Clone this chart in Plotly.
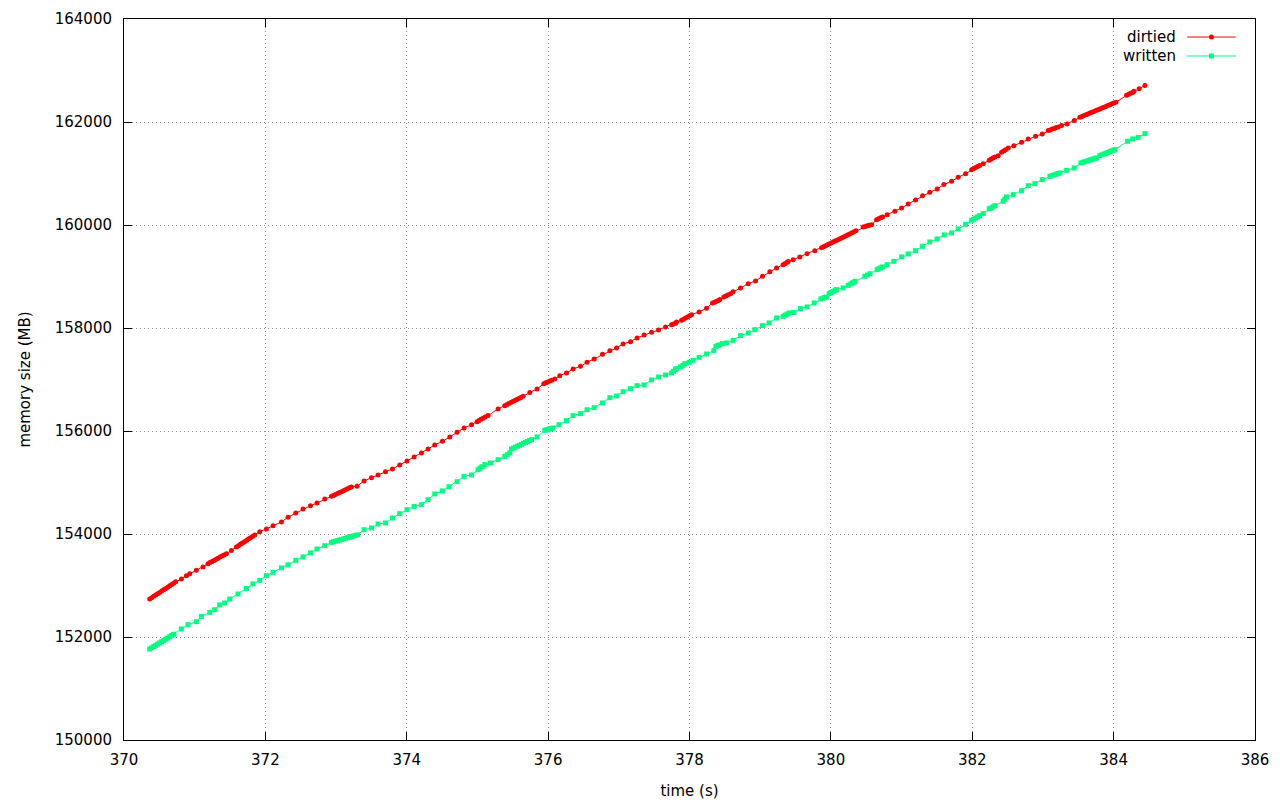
import plotly.graph_objects as go

# ---- data ----
dirtied_time = [
    370.364, 370.392, 370.420, 370.449, 370.477, 370.505, 370.534, 370.562, 370.590, 370.619, 370.647, 370.675, 370.704, 370.732,
    370.812, 370.883, 370.930, 371.024, 371.118,
    371.189, 371.217, 371.245, 371.274, 371.302, 371.330, 371.359, 371.387, 371.415, 371.449,
    371.520,
    371.590, 371.619, 371.647, 371.675, 371.704, 371.732, 371.760, 371.789, 371.817, 371.850,
    371.920, 372.015, 372.108, 372.227, 372.321, 372.430, 372.533, 372.638, 372.731, 372.840,
    372.935, 372.963, 372.991, 373.020, 373.048, 373.076, 373.105, 373.133, 373.161, 373.190, 373.218,
    373.297, 373.396, 373.501, 373.594, 373.699, 373.798, 373.901, 374.004, 374.104, 374.208, 374.302, 374.396, 374.505, 374.609, 374.712, 374.811, 374.916,
    374.995, 375.023, 375.051, 375.080, 375.108, 375.150,
    375.292,
    375.387, 375.415, 375.444, 375.472, 375.500, 375.529, 375.557, 375.585, 375.614, 375.646,
    375.741, 375.844,
    375.939, 375.967, 375.995, 376.024, 376.052, 376.094,
    376.165, 376.260, 376.353, 376.458, 376.551, 376.651, 376.769, 376.873, 376.968, 377.061, 377.166, 377.259, 377.358, 377.463, 377.562, 377.661,
    377.746, 377.774, 377.802, 377.816,
    377.887, 377.916, 377.944, 377.972, 378.001, 378.029,
    378.136, 378.241,
    378.326, 378.354, 378.382, 378.411, 378.429,
    378.486, 378.514, 378.542, 378.581,
    378.617, 378.722, 378.830, 378.934, 379.033, 379.137, 379.232,
    379.325, 379.353, 379.381, 379.396,
    379.466, 379.561, 379.664, 379.773,
    379.868, 379.896, 379.925, 379.953, 379.981, 380.010, 380.038, 380.066, 380.095, 380.123, 380.151, 380.180, 380.208, 380.236, 380.265, 380.293, 380.321, 380.354,
    380.457, 380.485, 380.513, 380.542, 380.576,
    380.647, 380.675, 380.703, 380.732,
    380.796, 380.906, 381.000, 381.094, 381.198, 381.297, 381.400, 381.504, 381.599, 381.708, 381.801, 381.906,
    381.991, 382.019, 382.048, 382.076, 382.104, 382.155,
    382.240,
    382.264, 382.292, 382.321, 382.367,
    382.415, 382.444, 382.472, 382.509,
    382.589, 382.698, 382.792, 382.896, 382.990,
    383.075, 383.103, 383.131, 383.160, 383.188, 383.216, 383.264,
    383.343, 383.443,
    383.523, 383.551, 383.580, 383.608, 383.636, 383.665, 383.693, 383.721, 383.750, 383.778, 383.806, 383.834, 383.863, 383.891, 383.919, 383.948, 383.976, 384.004, 384.033,
    384.184, 384.212, 384.240, 384.269, 384.287,
    384.362, 384.443,
]
dirtied_mb = [
    152738, 152764, 152789, 152815, 152840, 152866, 152892, 152917, 152943, 152968, 152994, 153020, 153045, 153071,
    153127, 153191, 153230, 153294, 153360,
    153424, 153445, 153466, 153487, 153508, 153530, 153551, 153572, 153593, 153618,
    153682,
    153748, 153773, 153799, 153824, 153850, 153875, 153901, 153926, 153952, 153981,
    154045, 154098, 154162, 154234, 154327, 154408, 154486, 154550, 154603, 154680,
    154731, 154749, 154767, 154786, 154804, 154822, 154841, 154859, 154877, 154896, 154914,
    154925, 155030, 155094, 155146, 155210, 155263, 155341, 155418, 155496, 155574, 155651, 155729, 155799, 155884, 155974, 156059, 156123,
    156181, 156204, 156227, 156250, 156273, 156299,
    156428,
    156492, 156512, 156532, 156551, 156571, 156591, 156610, 156630, 156650, 156675,
    156750, 156816,
    156919, 156936, 156952, 156969, 156986, 157010,
    157075, 157127, 157205, 157255, 157333, 157399, 157488, 157560, 157613, 157690, 157735, 157807, 157865, 157916, 157962, 158020,
    158065, 158079, 158094, 158117,
    158149, 158171, 158193, 158215, 158237, 158259,
    158312, 158382,
    158487, 158502, 158518, 158534, 158551,
    158603, 158622, 158641, 158667,
    158706, 158778, 158861, 158914, 159003, 159094, 159166,
    159230, 159253, 159276, 159289,
    159327, 159380, 159444, 159502,
    159560, 159579, 159598, 159616, 159635, 159654, 159673, 159692, 159710, 159729, 159748, 159767, 159786, 159804, 159823, 159846, 159865, 159890,
    159962, 159973, 159984, 159996, 160007,
    160104, 160121, 160139, 160157,
    160201, 160265, 160331, 160409, 160487, 160570, 160634, 160700, 160784, 160848, 160926, 160997,
    161075, 161095, 161115, 161135, 161155, 161191,
    161256,
    161275, 161299, 161320, 161347,
    161411, 161436, 161461, 161497,
    161541, 161605, 161671, 161722, 161768,
    161833, 161847, 161862, 161876, 161891, 161905, 161930,
    161963, 162027,
    162091, 162107, 162124, 162140, 162156, 162173, 162189, 162205, 162221, 162238, 162254, 162270, 162287, 162303, 162319, 162336, 162352, 162368, 162384,
    162518, 162537, 162556, 162575, 162596,
    162648, 162707,
]

written_time = [
    370.364, 370.392, 370.420, 370.449, 370.477, 370.505, 370.534, 370.562, 370.590, 370.619, 370.647, 370.675, 370.704,
    370.812, 370.906, 371.024, 371.095, 371.213, 371.283, 371.354, 371.425, 371.496, 371.613, 371.732, 371.825, 371.920,
    372.015, 372.108, 372.227, 372.321, 372.430, 372.533, 372.638, 372.731, 372.840,
    372.935, 372.963, 372.991, 373.020, 373.048, 373.076, 373.105, 373.133, 373.161, 373.190, 373.218, 373.246, 373.275, 373.303,
    373.396, 373.501, 373.594, 373.699, 373.798, 373.901, 374.004, 374.104, 374.208, 374.302, 374.396, 374.505, 374.599, 374.712, 374.811, 374.916,
    375.009, 375.037, 375.066, 375.104,
    375.185, 375.292,
    375.387, 375.422, 375.458,
    375.482, 375.510, 375.538, 375.567, 375.595, 375.623, 375.652, 375.680, 375.708, 375.737, 375.765,
    375.844,
    375.953, 375.981, 376.009, 376.038, 376.070,
    376.155, 376.260, 376.353, 376.458, 376.551, 376.651, 376.769, 376.873, 376.968, 377.061, 377.166, 377.259, 377.358, 377.463, 377.562, 377.661,
    377.746, 377.774, 377.802, 377.816,
    377.873, 377.906, 377.934,
    377.995, 378.051, 378.136, 378.241, 378.344,
    378.373, 378.401, 378.429, 378.467,
    378.524, 378.617, 378.722, 378.830, 378.924, 379.033, 379.127, 379.232,
    379.325, 379.353, 379.381, 379.410,
    379.476, 379.571, 379.664, 379.764,
    379.858, 379.886, 379.910, 379.939,
    379.976, 380.004, 380.032, 380.061, 380.081,
    380.174, 380.245,
    380.283, 380.311, 380.340,
    380.481, 380.517, 380.552,
    380.655, 380.683, 380.707, 380.731,
    380.796, 380.891, 381.000, 381.094, 381.198, 381.297, 381.400, 381.504, 381.603, 381.708, 381.801, 381.906,
    381.991, 382.019, 382.048, 382.076, 382.104, 382.155,
    382.240,
    382.264, 382.292, 382.321,
    382.438, 382.462, 382.486,
    382.579, 382.698, 382.792, 382.886, 382.990,
    383.099, 383.127, 383.155, 383.184, 383.212, 383.240,
    383.335, 383.443,
    383.537, 383.566, 383.594, 383.622, 383.651, 383.679, 383.707, 383.736, 383.760,
    383.806, 383.834, 383.863, 383.891, 383.919, 383.948, 383.976, 384.004, 384.018,
    384.198, 384.269, 384.348, 384.443,
]
written_mb = [
    151767, 151791, 151815, 151838, 151862, 151886, 151910, 151934, 151958, 151981, 152005, 152029, 152053,
    152156, 152239, 152297, 152400, 152478, 152530, 152622, 152661, 152738, 152835, 152944, 153030, 153099,
    153191, 153255, 153342, 153402, 153488, 153554, 153632, 153709, 153773,
    153837, 153848, 153860, 153871, 153882, 153893, 153904, 153916, 153927, 153938, 153949, 153960, 153972, 153983,
    154084, 154117, 154195, 154214, 154311, 154395, 154472, 154536, 154569, 154667, 154777, 154836, 154919, 155016, 155119, 155146,
    155249, 155278, 155307, 155346,
    155379, 155443,
    155507, 155540, 155573,
    155651, 155669, 155687, 155705, 155723, 155742, 155760, 155778, 155796, 155814, 155832,
    155884,
    156012, 156024, 156035, 156047, 156059,
    156123, 156201, 156298, 156337, 156414, 156453, 156545, 156647, 156680, 156764, 156822, 156881, 156894, 156991, 157049, 157088,
    157127, 157160, 157193, 157211,
    157244, 157274, 157308,
    157333, 157372, 157430, 157496, 157560,
    157644, 157659, 157674, 157696,
    157710, 157760, 157852, 157904, 157968, 158046, 158098, 158195,
    158226, 158248, 158270, 158292,
    158300, 158376, 158409, 158487,
    158564, 158577, 158590, 158603,
    158667, 158689, 158711, 158733, 158745,
    158778, 158828,
    158856, 158881, 158906,
    159003, 159029, 159055,
    159133, 159152, 159168, 159186,
    159230, 159294, 159380, 159438, 159502, 159586, 159671, 159729, 159807, 159846, 159924, 160013,
    160091, 160113, 160136, 160158, 160181, 160221,
    160312,
    160326, 160351, 160376,
    160460, 160502, 160545,
    160590, 160667, 160764, 160803, 160881,
    160945, 160958, 160971, 160985, 160998, 161011,
    161062, 161108,
    161205, 161217, 161230, 161242, 161255, 161267, 161279, 161292, 161302,
    161347, 161363, 161378, 161394, 161409, 161425, 161440, 161456, 161463,
    161625, 161671, 161702, 161774,
]

series_names = ["dirtied", "written"]
series_colors = ["#ff0000", "#00ff7f"]
series_symbols = ["circle", "square"]

x_range = [370, 386]
y_range = [150000, 164000]
x_title = "time (s)"
y_title = "memory size (MB)"

FONT = "DejaVu Sans"

fig = go.Figure()
for name, xs, ys, col, sym in zip(series_names,
                                  [dirtied_time, written_time],
                                  [dirtied_mb, written_mb],
                                  series_colors, series_symbols):
    fig.add_trace(go.Scatter(
        x=xs, y=ys, mode="lines+markers", name=name, showlegend=False,
        line=dict(color=col, width=1),
        marker=dict(symbol=sym, size=5, color=col, line=dict(width=0)),
    ))

axis_common = dict(
    showgrid=True, gridcolor="#909090", griddash="1px,3px", gridwidth=1,
    zeroline=False, showline=True, linecolor="black", linewidth=1,
    mirror="allticks", ticks="inside", ticklen=8, tickcolor="black", tickwidth=1,
    tickfont=dict(family=FONT, size=15, color="#000"), automargin=False,
)

# the page body adds an 8px offset, so the figure is 8px smaller on each side
fig.update_layout(
    width=1272, height=792,
    margin=dict(l=116, r=25, t=11, b=60, autoexpand=False),
    paper_bgcolor="white", plot_bgcolor="white",
    font=dict(family=FONT, size=15, color="#000"),
    xaxis=dict(range=x_range, tick0=370, dtick=2, ticklabelstandoff=6,
               title=dict(text=x_title, standoff=22, font=dict(family=FONT, size=15)),
               **axis_common),
    yaxis=dict(range=y_range, tick0=150000, dtick=2000, tickformat="d", ticklabelstandoff=8,
               title=dict(text=y_title, standoff=20, font=dict(family=FONT, size=15)),
               **axis_common),
)

# gnuplot-style key (text right, sample on the right) at the top-right corner
key_rows = [0.975, 0.9487]
for name, col, sym, yk in zip(series_names, series_colors, series_symbols, key_rows):
    fig.add_annotation(x=0.932, y=yk, xref="paper", yref="paper", text=name,
                       showarrow=False, xanchor="right", yanchor="middle",
                       font=dict(family=FONT, size=15, color="#000"))
    fig.add_shape(type="line", xref="paper", yref="paper", x0=0.940, x1=0.983, y0=yk, y1=yk,
                  line=dict(color=col, width=1))
    fig.add_shape(type="circle" if sym == "circle" else "rect",
                  xref="paper", yref="paper", xsizemode="pixel", ysizemode="pixel",
                  xanchor=0.9615, yanchor=yk, x0=-2.5, x1=2.5, y0=-2.5, y1=2.5,
                  fillcolor=col, line=dict(width=0))

fig.write_html("out.html")
